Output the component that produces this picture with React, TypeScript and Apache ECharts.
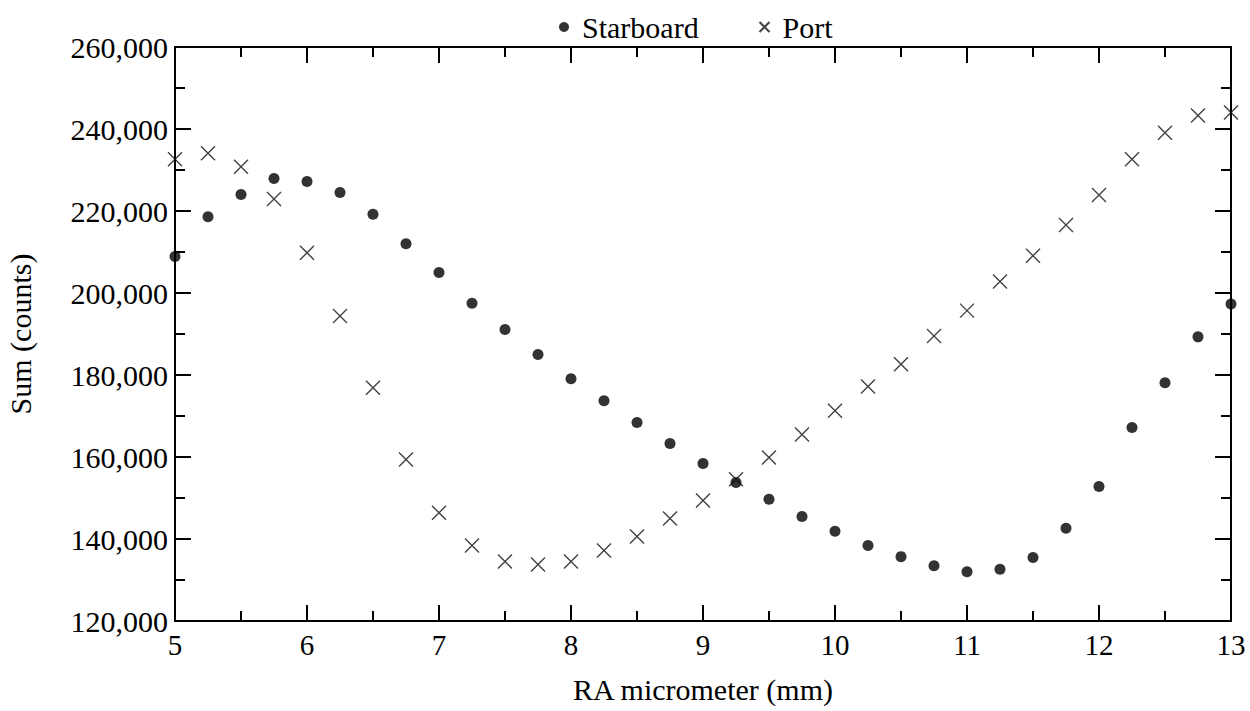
import React, { useEffect, useRef } from "react";
import * as echarts from "echarts";

const micrometer = [5, 5.25, 5.5, 5.75, 6, 6.25, 6.5, 6.75, 7, 7.25, 7.5, 7.75, 8, 8.25, 8.5, 8.75, 9, 9.25, 9.5, 9.75, 10, 10.25, 10.5, 10.75, 11, 11.25, 11.5, 11.75, 12, 12.25, 12.5, 12.75, 13];

const starboard = [208900, 218600, 224000, 227900, 227200, 224500, 219200, 212000, 205000, 197500, 191100, 185000, 179100, 173700, 168400, 163300, 158400, 153800, 149700, 145500, 141900, 138400, 135700, 133500, 132000, 132600, 135500, 142600, 152800, 167200, 178100, 189300, 197300];

const port = [232600, 234100, 230800, 222900, 209800, 194400, 176900, 159400, 146400, 138400, 134500, 133800, 134500, 137200, 140600, 145000, 149400, 154600, 159900, 165500, 171300, 177200, 182600, 189500, 195700, 202800, 209100, 216600, 223900, 232600, 239100, 243300, 244000];

const seriesNames = ["Starboard", "Port"];
const xTitle = "RA micrometer (mm)";
const yTitle = "Sum (counts)";

const FONT = "'Liberation Serif', serif";
const CROSS = "path://M0,0L10,10M10,0L0,10";

export default function App() {
  const ref = useRef<HTMLDivElement>(null);
  useEffect(() => {
    if (!ref.current) return;
    const chart = echarts.init(ref.current, null, { renderer: "svg" });
    const axisLine = { show: true, lineStyle: { color: "#000", width: 2 } };
    const tick = { show: true, inside: true, length: 16, lineStyle: { color: "#000", width: 2 } };
    const minor = { show: true, splitNumber: 2, length: 10, lineStyle: { color: "#000", width: 2 } };
    const xBase = {
      type: "value" as const,
      min: 5,
      max: 13,
      interval: 1,
      axisLine,
      axisTick: tick,
      minorTick: minor,
      splitLine: { show: false },
    };
    const yBase = {
      type: "value" as const,
      min: 120000,
      max: 260000,
      interval: 20000,
      axisLine,
      axisTick: tick,
      minorTick: minor,
      splitLine: { show: false },
    };
    const legendText = { fontFamily: FONT, fontSize: 30, color: "#000" };
    chart.setOption({
      animation: false,
      textStyle: { fontFamily: FONT, color: "#000" },
      legend: [
        {
          top: 7,
          left: 554,
          itemWidth: 26,
          itemHeight: 10,
          textStyle: legendText,
          data: [{ name: seriesNames[0], icon: "circle" }],
        },
        {
          top: 7,
          left: 752,
          itemWidth: 26,
          itemHeight: 10,
          textStyle: legendText,
          data: [{ name: seriesNames[1], icon: CROSS }],
        },
      ],
      grid: { left: 175, right: 19, top: 47, bottom: 90, containLabel: false, outerBoundsMode: "none" },
      xAxis: [
        {
          ...xBase,
          position: "bottom",
          name: xTitle,
          nameLocation: "middle",
          nameGap: 53,
          nameTextStyle: { fontFamily: FONT, fontSize: 30, color: "#000" },
          axisLabel: { show: true, margin: 9, fontFamily: FONT, fontSize: 29, color: "#000" },
        },
        { ...xBase, position: "top", axisLabel: { show: false } },
      ],
      yAxis: [
        {
          ...yBase,
          position: "left",
          name: yTitle,
          nameLocation: "middle",
          nameGap: 140,
          nameTextStyle: { fontFamily: FONT, fontSize: 30, color: "#000" },
          axisLabel: {
            show: true,
            margin: 7,
            fontFamily: FONT,
            fontSize: 30,
            color: "#000",
            formatter: (v: number) => v.toLocaleString("en-US"),
          },
        },
        { ...yBase, position: "right", axisLabel: { show: false } },
      ],
      series: [
        {
          name: seriesNames[0],
          type: "scatter",
          clip: false,
          symbol: "circle",
          symbolSize: 11,
          itemStyle: { color: "#000" },
          data: micrometer.map((x, i) => [x, starboard[i]]),
        },
        {
          name: seriesNames[1],
          type: "scatter",
          clip: false,
          symbol: CROSS,
          symbolSize: 14,
          itemStyle: { color: "none", borderColor: "#111", borderWidth: 1.4 },
          data: micrometer.map((x, i) => [x, port[i]]),
        },
      ],
    });
    return () => chart.dispose();
  }, []);
  return (
    <div
      ref={ref}
      style={{ position: "absolute", left: 0, top: 0, width: 1250, height: 711, background: "#fff" }}
    />
  );
}
